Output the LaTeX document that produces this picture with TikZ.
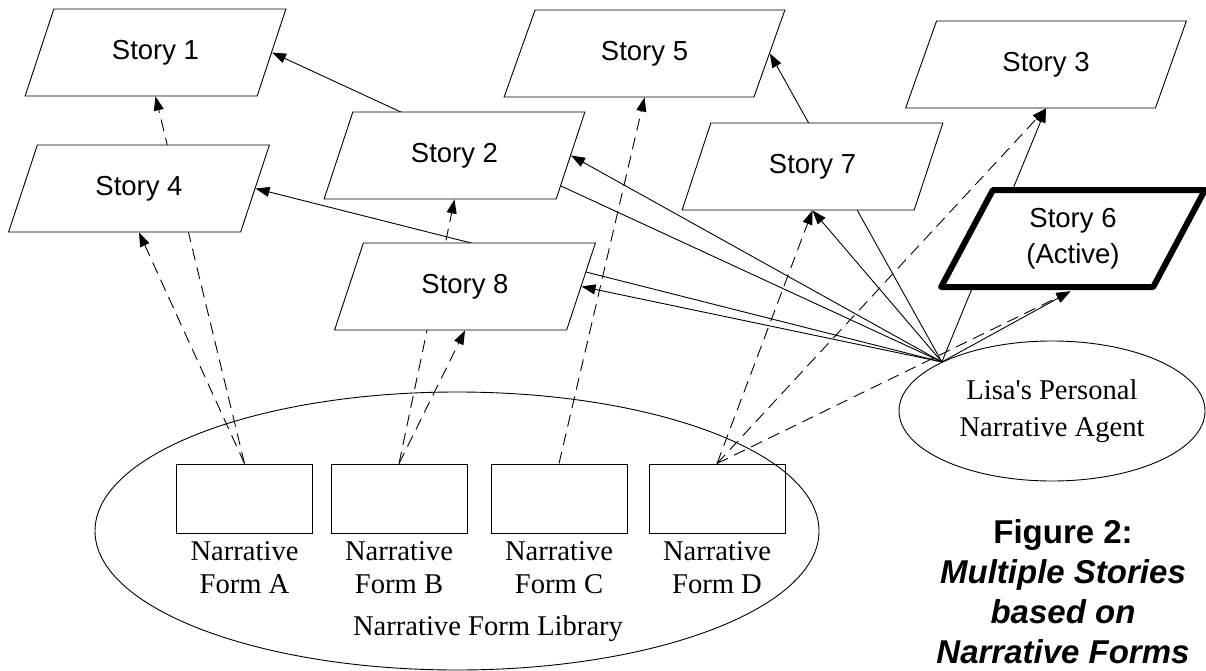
\documentclass[tikz,border=0pt]{standalone}
\usepackage{fontspec}
\setmainfont{Liberation Serif}
\setsansfont{Liberation Sans}
\usetikzlibrary{shapes.geometric,arrows.meta,positioning,backgrounds}

\begin{document}
\begin{tikzpicture}[x=1pt,y=-1pt,
    story/.style={trapezium, trapezium left angle=63.7, trapezium right angle=116.3,
      trapezium stretches=true, draw, fill=white, line width=0.9pt,
      minimum width=261pt, minimum height=87pt, inner sep=0pt,
      font=\sffamily\fontsize{27.5}{36}\selectfont, align=center},
    widestory/.style={story, minimum width=281pt},
    activestory/.style={story, line width=6pt, line join=round,
      minimum width=264pt, minimum height=97pt},
    form/.style={rectangle, draw, line width=0.9pt, minimum width=136pt,
      minimum height=69pt, inner sep=0pt},
    formlabel/.style={font=\fontsize{28.6}{33}\selectfont, align=center, inner sep=0pt},
    link/.style={line width=0.9pt, -{Triangle[length=14pt,width=10pt]}},
    dlink/.style={link, dash pattern=on 12pt off 7pt}]
    \useasboundingbox (0,0) rectangle (1206,671);

    % stories
    \node[story] (s1) at (155.5,52.5) {Story 1};
    \node[story] (s4) at (139,188.5) {Story 4};
    \node[story] (s2) at (454.5,155.5) {Story 2};
    \node[story] (s8) at (465,286.5) {Story 8};
    \node[widestory] (s5) at (644.5,53.5) {Story 5};
    \node[story] (s7) at (812.5,166.5) {Story 7};
    \node[widestory] (s3) at (1046,64.5) {Story 3};
    \node[activestory] (s6) at (1073,238.5) {Story 6\\(Active)};

    % narrative form library
    \node[ellipse, draw, line width=0.9pt, minimum width=724pt, minimum height=278pt] (lib) at (457,531) {};
    \node[form] (fa) at (244.5,498.5) {};
    \node[form] (fb) at (399,498.5) {};
    \node[form] (fc) at (559,498.5) {};
    \node[form] (fd) at (717,498.5) {};
    \node[formlabel, below=8pt of fa] (la) {Narrative\\Form A};
    \node[formlabel, below=8pt of fb] (lb) {Narrative\\Form B};
    \node[formlabel, below=8pt of fc] (lc) {Narrative\\Form C};
    \node[formlabel, below=8pt of fd] (ld) {Narrative\\Form D};
    \node[formlabel] (libname) at (488,629) {Narrative Form Library};

    % agent
    \node[ellipse, draw, line width=0.9pt, minimum width=306pt, minimum height=140pt,
      font=\fontsize{28.6}{37}\selectfont, align=center] (agent) at (1052,411)
      {Lisa\textquotesingle s Personal\\Narrative Agent};
    \coordinate (hub) at (agent.156);

    % caption
    \node[font=\sffamily\bfseries\fontsize{33}{40}\selectfont, align=center] (cap) at (1063,592)
      {Figure 2:\\\textit{Multiple Stories}\\\textit{based on}\\\textit{Narrative Forms}};

    \begin{scope}[on background layer]
      % agent links
      \draw[link] (hub) -- (s1.east);
      \draw[link] (hub) -- (s4.east);
      \draw[link] (hub) -- (s2.east);
      \draw[link] (hub) -- (s8.east);
      \draw[link] (hub) -- (s5.east);
      \draw[link] (hub) -- (s7.south);
      \draw[link] (hub) -- (s3.south);
      \draw[link, shorten >=3pt] (hub) -- (s6.south);
      % form links
      \draw[dlink] (fa.north) -- (s4.south);
      \draw[dlink] (fa.north) -- (s1.south);
      \draw[dlink] (fb.north) -- (s8.south);
      \draw[dlink] (fb.north) -- (s2.south);
      \draw[dlink] (fc.north) -- (s5.south);
      \draw[dlink] (fd.north) -- (s7.south);
      \draw[dlink] (fd.north) -- (s3.south);
      \draw[dlink, shorten >=3pt] (fd.north) -- (s6.south);
    \end{scope}
\end{tikzpicture}
\end{document}
